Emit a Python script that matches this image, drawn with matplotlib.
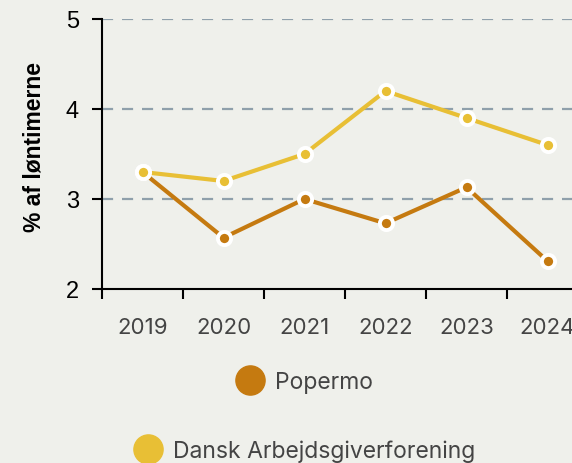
import matplotlib.pyplot as plt
from matplotlib.lines import Line2D

years = ['2019', '2020', '2021', '2022', '2023', '2024']
popermo = [3.3, 2.57, 3.0, 2.73, 3.13, 2.31]
dansk = [3.3, 3.2, 3.5, 4.2, 3.9, 3.6]
series_names = ['Popermo', 'Dansk Arbejdsgiverforening']
y_ticks = [2, 3, 4, 5]

bg = '#eff0eb'
c_pop = '#c57a10'
c_da = '#e8bf35'

fig = plt.figure(figsize=(5.72, 4.64), dpi=100)
fig.patch.set_facecolor(bg)
# axes runs past the right edge like in the original
ax = fig.add_axes([102 / 572, 1 - 290 / 464, 486 / 572, 270 / 464])
ax.set_facecolor(bg)

x = list(range(len(years)))
for vals, col in [(popermo, c_pop), (dansk, c_da)]:
    ax.plot(x, vals, color=col, lw=3, marker='o', ms=9.5, mfc=col,
            mec='white', mew=2.8, solid_capstyle='round', zorder=3)

ax.set_xlim(-0.5, len(years) - 0.5)
ax.set_ylim(2, 5)

# ticks at band edges, labels at band centres
ax.set_xticks([i - 0.5 for i in range(len(years) + 1)])
ax.set_xticklabels([])
ax.set_xticks(x, minor=True)
ax.set_xticklabels(years, minor=True, fontfamily='Inter', fontsize=16, color='#444444')
ax.tick_params(axis='x', which='major', length=7.5, width=1.5, color='black')
ax.tick_params(axis='x', which='minor', length=0, pad=20)

ax.set_yticks(y_ticks)
ax.set_yticklabels([str(v) for v in y_ticks], fontfamily='Liberation Sans', fontsize=17)
ax.tick_params(axis='y', length=7.5, width=1.5, color='black', pad=9)

for v in y_ticks[1:]:
    ax.axhline(v, color='#8fa0ab', lw=1.6, ls=(0, (5, 4)), zorder=1)

for s in ['top', 'right']:
    ax.spines[s].set_visible(False)
for s in ['left', 'bottom']:
    ax.spines[s].set_linewidth(1.5)

ax.set_ylabel('% af løntimerne', fontfamily='Liberation Sans', fontsize=16.5,
              fontweight='bold')
ax.yaxis.set_label_coords(-0.117, 0.53)

for name, col, yy in [(series_names[0], c_pop, 1 - 383 / 464),
                      (series_names[1], c_da, 1 - 452 / 464)]:
    h = Line2D([], [], ls='none', marker='o', ms=21, mfc=col, mec=col)
    fig.legend([h], [name], loc='center', bbox_to_anchor=(305 / 572, yy),
               frameon=False, handletextpad=0.55, handlelength=1.1,
               prop={'family': 'Inter', 'size': 16.5}, labelcolor='#444444')

fig.savefig('out.png', dpi=100, facecolor=bg)
